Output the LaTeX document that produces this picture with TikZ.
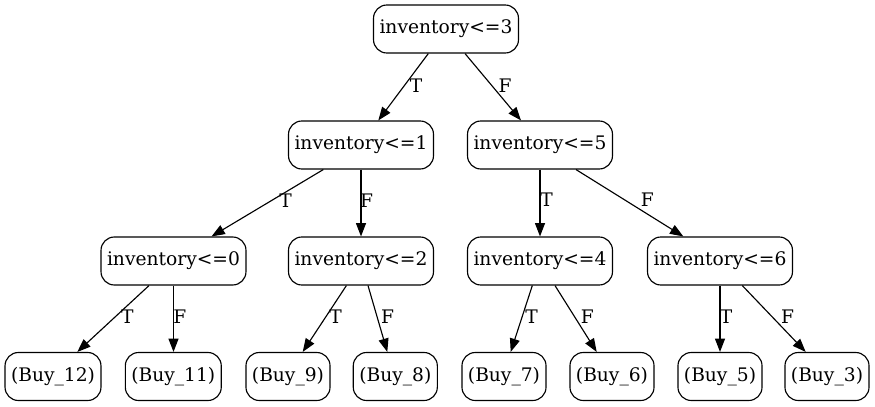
\documentclass[tikz,border=0pt]{standalone}
\usepackage{fontspec}
\setmainfont{DejaVu Serif}
\usetikzlibrary{arrows.meta,calc}
\begin{document}
\begin{tikzpicture}[x=0.75pt,y=-0.75pt,
  box/.style={draw, rounded corners=10pt, minimum height=36pt, inner xsep=4.5pt, inner ysep=0pt,
    font=\fontsize{14}{16}\selectfont, line width=0.85pt},
  edge/.style={-{Triangle[length=10pt,width=7.5pt]}, line width=0.85pt},
  lbl/.style={font=\fontsize{14}{16}\selectfont, inner sep=0pt}]
\useasboundingbox (0,0) rectangle (875,407);
% nodes
\node[box] (r)  at (446,29)  {inventory<=3};
\node[box] (i1) at (361,145) {inventory<=1};
\node[box] (i5) at (540,145) {inventory<=5};
\node[box] (i0) at (173.5,261) {inventory<=0};
\node[box] (i2) at (361,261) {inventory<=2};
\node[box] (i4) at (540,261) {inventory<=4};
\node[box] (i6) at (720,261) {inventory<=6};
\node[box] (b12) at (53,376.5)  {(Buy\_12)};
\node[box] (b11) at (173.3,376.5) {(Buy\_11)};
\node[box] (b9)  at (288,376.5) {(Buy\_9)};
\node[box] (b8)  at (395.3,376.5) {(Buy\_8)};
\node[box] (b7)  at (504,376.5) {(Buy\_7)};
\node[box] (b6)  at (612,376.5) {(Buy\_6)};
\node[box] (b5)  at (720,376.5) {(Buy\_5)};
\node[box] (b3)  at (827,376.5) {(Buy\_3)};
% edges
\draw[edge] ($(r.south)+(-17.7,0)$) -- node[lbl, shift={(12.7,-1.2)}] {T} ($(i1.north)+(17.3,0)$);
\draw[edge] ($(r.south)+(19,0)$) -- node[lbl, shift={(12,-1.2)}] {F} ($(i5.north)+(-19,0)$);
\draw[edge] ($(i1.south)+(-37.7,0)$) -- node[lbl, shift={(18.2,-2.3)}] {T} ($(i0.north)+(38,0)$);
\draw[edge] (i1.south) -- node[lbl, shift={(5.7,-2.3)}] {F} (i2.north);
\draw[edge] (i5.south) -- node[lbl, shift={(6.7,-3)}] {T} (i4.north);
\draw[edge] ($(i5.south)+(36,0)$) -- node[lbl, shift={(17.6,-3)}] {F} ($(i6.north)+(-36.7,0)$);
\draw[edge] ($(i0.south)+(-24.5,0)$) -- node[lbl, shift={(14.1,-1.6)}] {T} ($(b12.north)+(24.3,0)$);
\draw[edge] (i0.south) -- node[lbl, shift={(6.3,-1.6)}] {F} (i0.south |- b11.north);
\draw[edge] ($(i2.south)+(-14.6,0)$) -- node[lbl, shift={(11,-1.6)}] {T} ($(b9.north)+(14.7,0)$);
\draw[edge] ($(i2.south)+(7,0)$) -- node[lbl, shift={(9.9,-1.6)}] {F} ($(b8.north)+(-8,0)$);
\draw[edge] ($(i4.south)+(-7.7,0)$) -- node[lbl, shift={(10.2,-1.6)}] {T} ($(b7.north)+(6.7,0)$);
\draw[edge] ($(i4.south)+(15,0)$) -- node[lbl, shift={(11.4,-1.6)}] {F} ($(b6.north)+(-15.3,0)$);
\draw[edge] (i6.south) -- node[lbl, shift={(6,-1.6)}] {T} (i6.south |- b5.north);
\draw[edge] ($(i6.south)+(22.3,0)$) -- node[lbl, shift={(13.7,-1.6)}] {F} ($(b3.north)+(-21.3,0)$);
\end{tikzpicture}
\end{document}
